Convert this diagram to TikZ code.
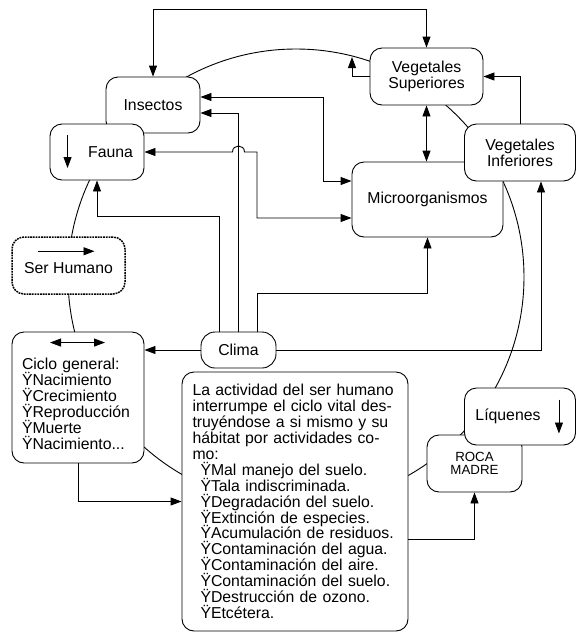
\documentclass[tikz,border=0pt]{standalone}
\usepackage{fontspec}
\setmainfont{Liberation Sans}
\usetikzlibrary{arrows.meta,calc}
\newcommand\tightlines{\lineskiplimit -20pt\relax}
\tikzset{
  cnode/.style={draw, rounded corners=12pt, fill=white, align=center, inner sep=0pt,
                font=\fontsize{15.8}{15.9}\selectfont\tightlines},
  hnode/.style={cnode, line width=1.5pt, dash pattern=on 1.8pt off 0.9pt},
  tnode/.style={draw, rounded corners=12pt, fill=white, align=left, inner ysep=0pt,
                font=\fontsize{15.8}{15.9}\selectfont\tightlines},
  flow/.style={-{Triangle[length=11pt, width=8pt]}},
  flowb/.style={{Triangle[length=11pt, width=8pt]}-{Triangle[length=11pt, width=8pt]}},
}

\begin{document}
\begin{tikzpicture}[x=1pt, y=-1pt, line width=0.9pt]
\useasboundingbox (0,0) rectangle (576,633);

% ciclo vital
\draw (296,277) circle[radius=228];
\coordinate (arcpt) at (352,57);

% seres vivos
\node[cnode, minimum width=94pt, minimum height=56pt] (ins) at (153,105) {Insectos};
\node[cnode, minimum width=94pt, minimum height=56pt] (fauna) at (97,152) {\hspace*{27pt}Fauna};
\node[cnode, minimum width=113pt, minimum height=57pt] (vs) at (426.5,76.5) {Vegetales\\Superiores};
\node[cnode, minimum width=151pt, minimum height=75pt] (micro) at (427.5,199.5) {Microorganismos};
\node[cnode, minimum width=111pt, minimum height=57pt] (vi) at (520,152.5) {Vegetales\\Inferiores};
\node[hnode, minimum width=113pt, minimum height=57pt] (sh) at (68.5,265.5) {\mbox{}\\Ser Humano};

% ciclo general y clima
\node[tnode, text width=112pt, inner xsep=10pt, minimum height=131pt] (ciclo) at (78,397.5)
  {\mbox{}\\[8pt]Ciclo general:\\ŸNacimiento\\ŸCrecimiento\\ŸReproducción\\ŸMuerte\\ŸNacimiento...};
\node[cnode, rounded corners=14pt, minimum width=75pt, minimum height=36pt] (clima) at (238.5,350) {Clima};

% actividad humana
\node[tnode, text width=205pt, inner xsep=10.5pt, minimum height=259pt] (act) at (295,501.5)
  {\makebox[205pt][s]{La actividad del ser humano}\\
   \makebox[205pt][s]{interrumpe el ciclo vital des-}\\
   \makebox[205pt][s]{truyéndose a si mismo y su}\\
   \makebox[205pt][s]{hábitat por actividades co-}\\
   mo:\\
   \hspace*{8pt}ŸMal manejo del suelo.\\
   \hspace*{8pt}ŸTala indiscriminada.\\
   \hspace*{8pt}ŸDegradación del suelo.\\
   \hspace*{8pt}ŸExtinción de especies.\\
   \hspace*{8pt}ŸAcumulación de residuos.\\
   \hspace*{8pt}ŸContaminación del agua.\\
   \hspace*{8pt}ŸContaminación del aire.\\
   \hspace*{8pt}ŸContaminación del suelo.\\
   \hspace*{8pt}ŸDestrucción de ozono.\\
   \hspace*{8pt}ŸEtcétera.};

% roca y liquenes
\node[cnode, minimum width=95pt, minimum height=57pt, font=\fontsize{13.3}{13}\selectfont\tightlines] (roca) at (474.5,463.5) {ROCA\\MADRE};
\node[cnode, minimum width=111pt, minimum height=57pt] (liq) at (520,416.5) {Líquenes\hspace*{24pt}};

% flechas internas
\draw[flow] ([xshift=18pt, yshift=17pt]fauna.west) -- ([xshift=18pt, yshift=-16pt]fauna.west);
\draw[flow] ([xshift=-31pt, yshift=-15pt]sh.north) -- ([xshift=26pt, yshift=-15pt]sh.north);
\draw[flowb] ([xshift=-28pt, yshift=-11pt]ciclo.north) -- ([xshift=27pt, yshift=-11pt]ciclo.north);
\draw[flow] ([xshift=-17pt, yshift=17pt]liq.east) -- ([xshift=-17pt, yshift=-17pt]liq.east);

% conexiones de arriba
\draw[flowb] (ins.north) -- ++(0,-67) -| (vs.north);
\draw[flow] (vs.west) -| (arcpt);
\draw[flow] (vi.north) |- (vs.east);
\draw[flowb] (vs.south) -- (vs.south |- micro.north);
\draw[flowb] ([yshift=8pt]ins.east) -- ++(123,0) |- ([yshift=18.5pt]micro.west);
\draw[flowb] (fauna.east) -- (232.5,152) .. controls (232.5,144) and (244.5,144) .. (244.5,152)
  -- (257,152) |- ([yshift=-18.5pt]micro.west);

% desde el clima
\draw[flow] (clima.north) |- ([yshift=-8pt]ins.east);
\draw[flow] ([xshift=-19.5pt]clima.north) -- ++(0,-115) -| (fauna.south);
\draw[flow] ([xshift=19pt]clima.north) -- ++(0,-38) -| (micro.south);
\draw[flow] (clima.west) -- (clima.west -| ciclo.east);
\draw[flow] (clima.east) -| ([xshift=21pt]vi.south);

% abajo
\draw[flow] (ciclo.south) |- (act.west);
\draw[flow] ([yshift=-37.5pt]act.east) -| (roca.south);

\end{tikzpicture}
\end{document}
